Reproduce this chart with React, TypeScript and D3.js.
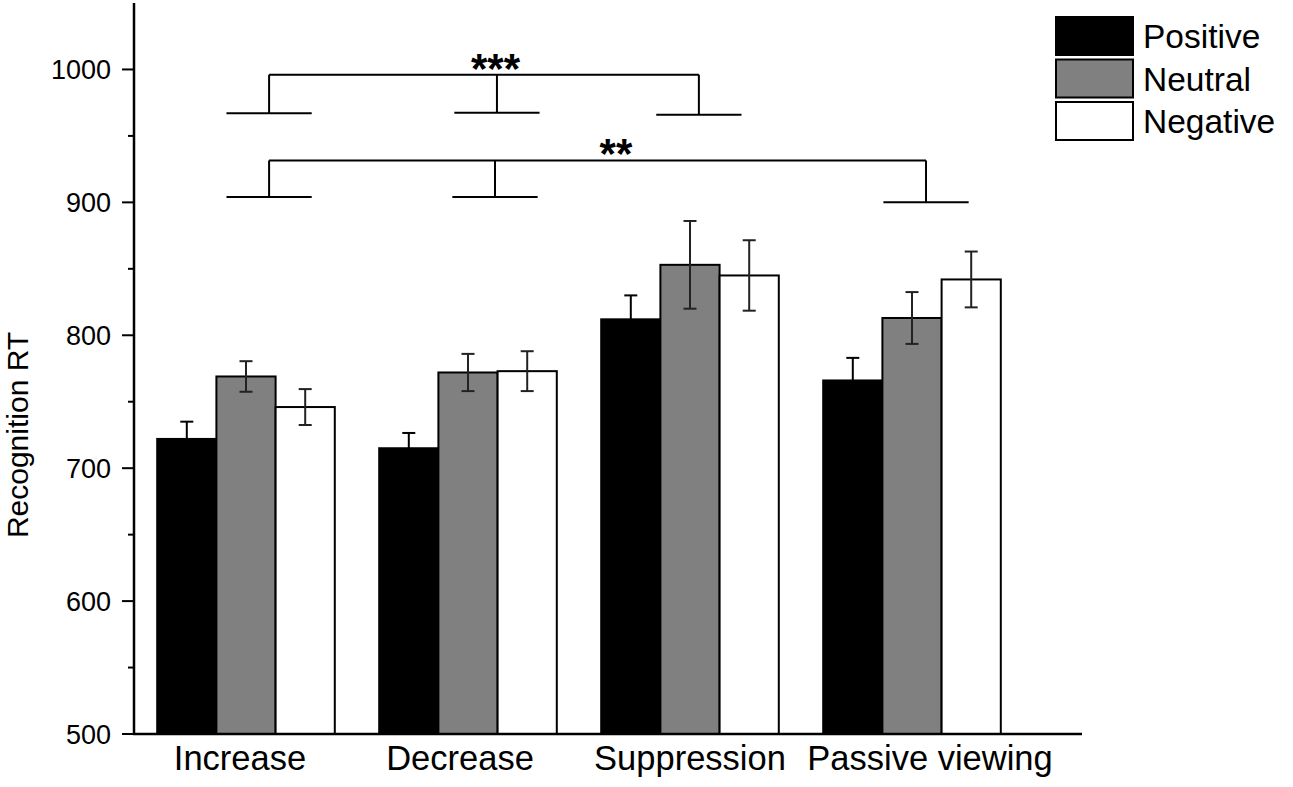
import * as d3 from 'd3'

const conditions = ['Increase', 'Decrease', 'Suppression', 'Passive viewing']
const valences = ['Positive', 'Neutral', 'Negative']
const fills = ['#000000', '#808080', '#ffffff']

// mean recognition RT per condition, one array per valence
const positiveRT = [722, 715, 812, 766]
const neutralRT = [769, 772, 853, 813]
const negativeRT = [746, 773, 845, 842]

// standard errors
const positiveErr = [13, 11.5, 18, 17]
const neutralErr = [11.5, 14, 33, 19.5]
const negativeErr = [13.5, 15, 26.5, 21]

const yTicks = [500, 600, 700, 800, 900, 1000]

// significance brackets: drop positions are (condition, fraction across group)
const sigLabels = ['***', '**']
const sigBarY = [996, 931.5]
const sigDrops = [
  [
    { cond: 'Increase', at: 0.63, foot: 967 },
    { cond: 'Decrease', at: 0.663, foot: 967.5 },
    { cond: 'Suppression', at: 0.55, foot: 966 },
  ],
  [
    { cond: 'Increase', at: 0.63, foot: 904 },
    { cond: 'Decrease', at: 0.652, foot: 904 },
    { cond: 'Passive viewing', at: 0.579, foot: 900 },
  ],
]
const sigLabelAt = [
  { cond: 'Decrease', at: 0.655 },
  { cond: 'Suppression', at: 0.083 },
]

const W = 1293
const H = 787
const font = '"Liberation Sans", Arial, sans-serif'
// the category labels are not quite centred under their groups in the original
const labelNudge = [-6, -8, 0, 18]

export default function App() {
  const series = [positiveRT, neutralRT, negativeRT]
  const errors = [positiveErr, neutralErr, negativeErr]

  const x = d3.scaleBand<string>()
    .domain(conditions)
    .range([135, 1023])
    .paddingInner(0.2)
    .paddingOuter(0.1)

  const xi = d3.scaleBand<string>()
    .domain(valences)
    .range([0, x.bandwidth()])

  const y = d3.scaleLinear().domain([500, 1050]).range([734, 3])

  const axisX = 134
  const axisEnd = 1082
  const minorTicks = d3.range(550, 1050, 100)

  const footHalf = x.bandwidth() * 0.24
  const px = (cond: string, at: number) => (x(cond) ?? 0) + at * x.bandwidth()

  return (
    <svg width={W} height={H} style={{ position: 'absolute', left: 0, top: 0, background: '#fff' }}
      fontFamily={font}>
      {/* bars */}
      {conditions.map((c, ci) => (
        <g key={c} transform={`translate(${x(c)},0)`}>
          {valences.map((v, vi) => {
            const val = series[vi][ci]
            return (
              <rect key={v} x={xi(v)} y={y(val)} width={xi.bandwidth()} height={y(500) - y(val)}
                fill={fills[vi]} stroke="#000" strokeWidth={2} />
            )
          })}
          {valences.map((v, vi) => {
            const val = series[vi][ci]
            const e = errors[vi][ci]
            const cx = (xi(v) ?? 0) + xi.bandwidth() / 2
            return (
              <g key={v} stroke={vi === 0 ? '#000' : '#222'} strokeWidth={2}>
                <line x1={cx} x2={cx} y1={y(val + e)} y2={y(val - e)} />
                <line x1={cx - 6.5} x2={cx + 6.5} y1={y(val + e)} y2={y(val + e)} />
                <line x1={cx - 6.5} x2={cx + 6.5} y1={y(val - e)} y2={y(val - e)} />
              </g>
            )
          })}
        </g>
      ))}

      {/* axes */}
      <line x1={axisX} x2={axisX} y1={y(1050)} y2={y(500) + 1} stroke="#000" strokeWidth={2.5} />
      <line x1={axisX - 1} x2={axisEnd} y1={y(500)} y2={y(500)} stroke="#000" strokeWidth={2.5} />
      {yTicks.map(t => (
        <g key={t}>
          <line x1={axisX - 12} x2={axisX} y1={y(t)} y2={y(t)} stroke="#000" strokeWidth={2} />
          <text x={axisX - 23} y={y(t)} dy="0.36em" textAnchor="end" fontSize={27}>{t}</text>
        </g>
      ))}
      {minorTicks.map(t => (
        <line key={t} x1={axisX - 6} x2={axisX} y1={y(t)} y2={y(t)} stroke="#000" strokeWidth={2} />
      ))}
      {conditions.map((c, ci) => (
        <text key={c} x={(x(c) ?? 0) + x.bandwidth() / 2 + labelNudge[ci]} y={770}
          textAnchor="middle" fontSize={34.5}>{c}</text>
      ))}
      <text transform="translate(28,435) rotate(-90)" textAnchor="middle" fontSize={30}>Recognition RT</text>

      {/* significance brackets */}
      {sigDrops.map((drops, si) => {
        const xs = drops.map(d => px(d.cond, d.at))
        const barY = y(sigBarY[si])
        const lab = sigLabelAt[si]
        return (
          <g key={si} stroke="#000" strokeWidth={2} fill="none">
            <line x1={d3.min(xs)} x2={d3.max(xs)} y1={barY} y2={barY} />
            {drops.map((d, di) => (
              <g key={di}>
                <line x1={xs[di]} x2={xs[di]} y1={barY} y2={y(d.foot)} />
                <line x1={xs[di] - footHalf} x2={xs[di] + footHalf} y1={y(d.foot)} y2={y(d.foot)} />
              </g>
            ))}
            <text x={px(lab.cond, lab.at)} y={barY + 8} textAnchor="middle" fontSize={42}
              fontWeight="bold" fill="#000" stroke="none">{sigLabels[si]}</text>
          </g>
        )
      })}

      {/* legend */}
      {valences.map((v, vi) => (
        <g key={v} transform={`translate(1056,${17 + vi * 42.5})`}>
          <rect width={77} height={38} fill={fills[vi]} stroke="#000" strokeWidth={2} />
          <text x={87} y={19} dy="0.36em" fontSize={33.5}>{v}</text>
        </g>
      ))}
    </svg>
  )
}
